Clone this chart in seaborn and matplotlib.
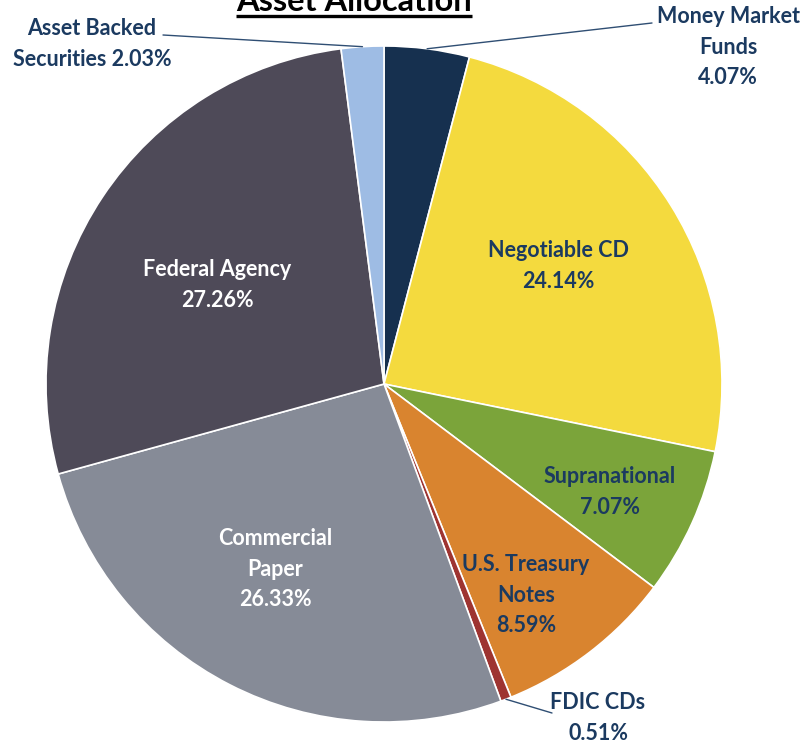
import matplotlib.pyplot as plt
import numpy as np
import seaborn as sns

sns.set_theme(style="white")
plt.rcParams["font.family"] = ["Lato", "DejaVu Sans"]

W, H = 805, 744

categories = [
    "Money Market\nFunds",
    "Negotiable CD",
    "Supranational",
    "U.S. Treasury\nNotes",
    "FDIC CDs",
    "Commercial\nPaper",
    "Federal Agency",
    "Asset Backed\nSecurities",
]
shares = [4.07, 24.14, 7.07, 8.59, 0.51, 26.33, 27.26, 2.03]
colors = ["#16304F", "#F4DA3E", "#7BA43A", "#D9842F", "#9E3431",
          "#868B97", "#4E4A58", "#9EBCE4"]

NAVY = "#1B3A60"
CENTER = (384, 384)
RADIUS = 338


def px(x, y):
    return x, H - y


# label placement (pixel coords), colour, and leader line anchors
label_pos = [
    (728, 47), (558, 266), (610, 492), (526, 595),
    (598, 718), (275, 569), (217, 285), (92, 44),
]
label_color = [NAVY, NAVY, NAVY, NAVY, NAVY, "white", "white", NAVY]
leader_anchor = {0: (652, 23), 4: (552, 713), 7: (163, 35)}

fig = plt.figure(figsize=(W / 100, H / 100), dpi=100)
ax = fig.add_axes([0, 0, 1, 1])

wedges, _ = ax.pie(
    shares,
    colors=colors,
    startangle=90,
    counterclock=False,
    center=px(*CENTER),
    radius=RADIUS,
    wedgeprops=dict(edgecolor="white", linewidth=1.2),
    frame=True,
)
ax.set_xlim(0, W)
ax.set_ylim(0, H)
ax.set_aspect("equal")
ax.axis("off")

for i, (name, val) in enumerate(zip(categories, shares)):
    if i == 7:
        text = "Asset Backed\nSecurities {:.2f}%".format(val)
    else:
        text = "{}\n{:.2f}%".format(name, val)
    x, y = label_pos[i]
    ax.text(*px(x, y), text, ha="center", va="center", fontsize=15.5,
            fontweight="bold", color=label_color[i], linespacing=1.58)
    if i in leader_anchor:
        w = wedges[i]
        mid = np.deg2rad((w.theta1 + w.theta2) / 2)
        cx, cy = w.center
        tip = (cx + w.r * np.cos(mid), cy + w.r * np.sin(mid))
        ax.annotate("", xy=tip, xytext=px(*leader_anchor[i]),
                    arrowprops=dict(arrowstyle="-", color="#2F4E73", lw=1.0,
                                    shrinkA=0, shrinkB=0))

# title is clipped by the top edge, as in the source image
title = ax.text(*px(354, 11), "Asset Allocation", ha="center", va="baseline",
                fontsize=23.5, fontweight="bold", color="black")

# underline the title
fig.canvas.draw()
bb = title.get_window_extent().transformed(ax.transData.inverted())
ax.plot([bb.x0, bb.x1], [H - 15.5, H - 15.5], color="black", lw=2.4,
        solid_capstyle="butt")

fig.savefig("out.png", dpi=100)
